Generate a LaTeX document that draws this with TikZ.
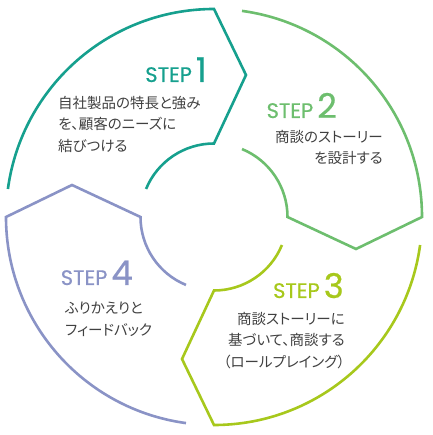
\documentclass[tikz,border=0pt]{standalone}
\usepackage{fontspec}
\newfontfamily\jp[RawFeature=+palt]{Noto Sans CJK JP}
\newfontfamily\stepfont[FakeBold=0.6]{Poppins}
\definecolor{cone}{HTML}{16A08E}
\definecolor{ctwo}{HTML}{6DBE6E}
\definecolor{cthree}{HTML}{A7C81C}
\definecolor{cfour}{HTML}{8A93C6}
\definecolor{txt}{HTML}{404040}
\begin{document}
\begin{tikzpicture}[x=1pt,y=1pt,
  seg/.style={line width=2.6pt, line join=miter},
  desc/.style={font=\jp\fontsize{14.5}{21.5}\selectfont, text=txt, inner sep=0pt},
  steplbl/.style={inner sep=0pt, anchor=base east}]
\useasboundingbox (-214,-218) rectangle (218,217);
\def\Ro{208}
\def\Ri{73.5}
% segments
\draw[seg,cone] (172.26:\Ro) arc[start angle=172.26,end angle=90,radius=\Ro]
  -- (32,142) -- (90:\Ri) arc[start angle=90,end angle=157.6,radius=\Ri];
\draw[seg,ctwo] (82.26:\Ro) arc[start angle=82.26,end angle=0,radius=\Ro]
  -- (142,-32) -- (0:\Ri) arc[start angle=0,end angle=67.6,radius=\Ri];
\draw[seg,cthree] (-7.74:\Ro) arc[start angle=-7.74,end angle=-90,radius=\Ro]
  -- (-32,-142) -- (-90:\Ri) arc[start angle=-90,end angle=-22.4,radius=\Ri];
\draw[seg,cfour] (262.26:\Ro) arc[start angle=262.26,end angle=180,radius=\Ro]
  -- (-142,32) -- (180:\Ri) arc[start angle=180,end angle=247.6,radius=\Ri];
% labels
\node[steplbl,text=cone] (s1) at (-7,135) {\stepfont\fontsize{21}{21}\selectfont STEP\hspace{4pt}\fontsize{34}{34}\selectfont 1};
\node[steplbl,text=ctwo] (s2) at (123,99) {\stepfont\fontsize{21}{21}\selectfont STEP\hspace{4pt}\fontsize{34}{34}\selectfont 2};
\node[steplbl,text=cthree] (s3) at (130,-81) {\stepfont\fontsize{21}{21}\selectfont STEP\hspace{4pt}\fontsize{34}{34}\selectfont 3};
\node[steplbl,text=cfour] (s4) at (-81,-68) {\stepfont\fontsize{21}{21}\selectfont STEP\hspace{4pt}\fontsize{34}{34}\selectfont 4};
% descriptions
\node[desc,anchor=north west,align=left] (d1) at (-156,121) {自社製品の特長と強み\\を、顧客のニーズに\\結びつける};
\node[desc,anchor=north east,align=right] (d2) at (169,87) {商談のストーリー\\を設計する};
\node[desc,anchor=north east,align=right] (d3) at (131,-94.7) {商談ストーリーに\\基づいて、商談する\\（ロールプレイング）};
\node[desc,anchor=north west,align=left] (d4) at (-149,-85) {ふりかえりと\\フィードバック};
\end{tikzpicture}
\end{document}
